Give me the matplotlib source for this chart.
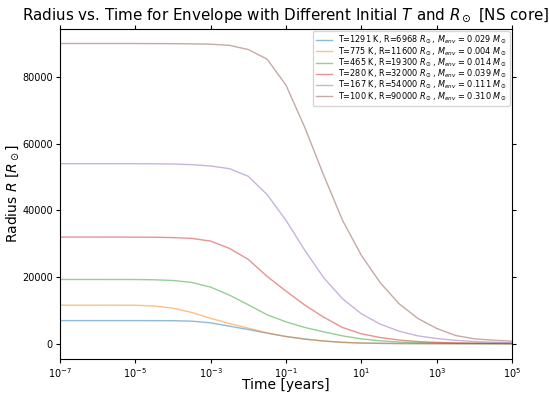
import numpy as np
import matplotlib
matplotlib.use("Agg")
import matplotlib.pyplot as plt
from matplotlib.ticker import FixedLocator, NullLocator

# time grid (log10 years)
log_t = [-7, -6, -5, -4.5, -4, -3.5, -3, -2.5, -2, -1.5, -1, -0.5, 0, 0.5,
         1, 1.5, 2, 2.5, 3, 3.5, 4, 4.5, 5]

labels = [
    r'T=1291 K, R=6968 $R_\odot$, $M_{env}$ = 0.029 $M_\odot$',
    r'T=775 K, R=11600 $R_\odot$, $M_{env}$ = 0.004 $M_\odot$',
    r'T=465 K, R=19300 $R_\odot$, $M_{env}$ = 0.014 $M_\odot$',
    r'T=280 K, R=32000 $R_\odot$, $M_{env}$ = 0.039 $M_\odot$',
    r'T=167 K, R=54000 $R_\odot$, $M_{env}$ = 0.111 $M_\odot$',
    r'T=100 K, R=90000 $R_\odot$, $M_{env}$ = 0.310 $M_\odot$',
]

r_1291 = [6968, 6968, 6968, 6960, 6940, 6800, 6300, 5300, 4300, 3200, 2200,
          1450, 850, 450, 250, 150, 100, 80, 60, 50, 40, 35, 30]
r_775 = [11600, 11600, 11580, 11350, 10700, 9400, 7650, 6100, 4700, 3300,
         2200, 1400, 850, 450, 250, 150, 100, 80, 60, 50, 40, 35, 30]
r_465 = [19300, 19300, 19280, 19200, 19000, 18400, 17000, 14600, 11700, 8700,
         6600, 4900, 3600, 2400, 1500, 900, 550, 350, 230, 160, 120, 100, 80]
r_280 = [32000, 32000, 31980, 31950, 31850, 31600, 30800, 28600, 25300, 20200,
         15800, 11600, 8000, 4900, 3000, 1900, 1150, 700, 450, 300, 220, 170, 130]
r_167 = [54000, 54000, 53980, 53950, 53900, 53700, 53300, 52500, 50200, 44700,
         37000, 28000, 19800, 13500, 9000, 5900, 3800, 2400, 1600, 1050, 700, 470, 300]
r_100 = [90000, 90000, 90000, 89980, 89950, 89900, 89800, 89450, 88200, 85300,
         77500, 64800, 50500, 37000, 26500, 18300, 12000, 7600, 4600, 2500, 1500,
         1100, 800]

series = [r_1291, r_775, r_465, r_280, r_167, r_100]
colors = ['tab:blue', 'tab:orange', 'tab:green', 'tab:red', 'tab:purple', 'tab:brown']

xticks = [1e-7, 1e-5, 1e-3, 1e-1, 1e1, 1e3, 1e5]
yticks = [0, 20000, 40000, 60000, 80000]

fig = plt.figure(figsize=(5.49, 3.96), dpi=100)
ax = fig.add_axes([0.109, 0.094, 0.824, 0.834])

t = 10.0 ** np.array(log_t)
for r, c, lab in zip(series, colors, labels):
    ax.plot(t, r, color=c, alpha=0.5, lw=1.0, label=lab)

ax.set_xscale('log')
ax.set_xlim(1e-7, 1e5)
ax.xaxis.set_major_locator(FixedLocator(xticks))
ax.xaxis.set_minor_locator(NullLocator())
ax.set_yticks(yticks)
ax.tick_params(top=True, right=True, labelsize=7, length=2.6, pad=2.5)
for s in ax.spines.values():
    s.set_linewidth(0.8)

ax.set_xlabel('Time [years]', fontsize=10, labelpad=-1.0)
ax.set_ylabel(r'Radius $R$ [$R_\odot$]', fontsize=10, labelpad=1)
ax.set_title(r'Radius vs. Time for Envelope with Different Initial $T$ and $R_\odot$ [NS core]',
             fontsize=10.9, pad=6)
ax.legend(loc='upper right', fontsize=5.9, handlelength=2.0, borderpad=0.35,
          labelspacing=-0.15, handletextpad=0.7, borderaxespad=0.3)

fig.savefig('out.png', dpi=100)
